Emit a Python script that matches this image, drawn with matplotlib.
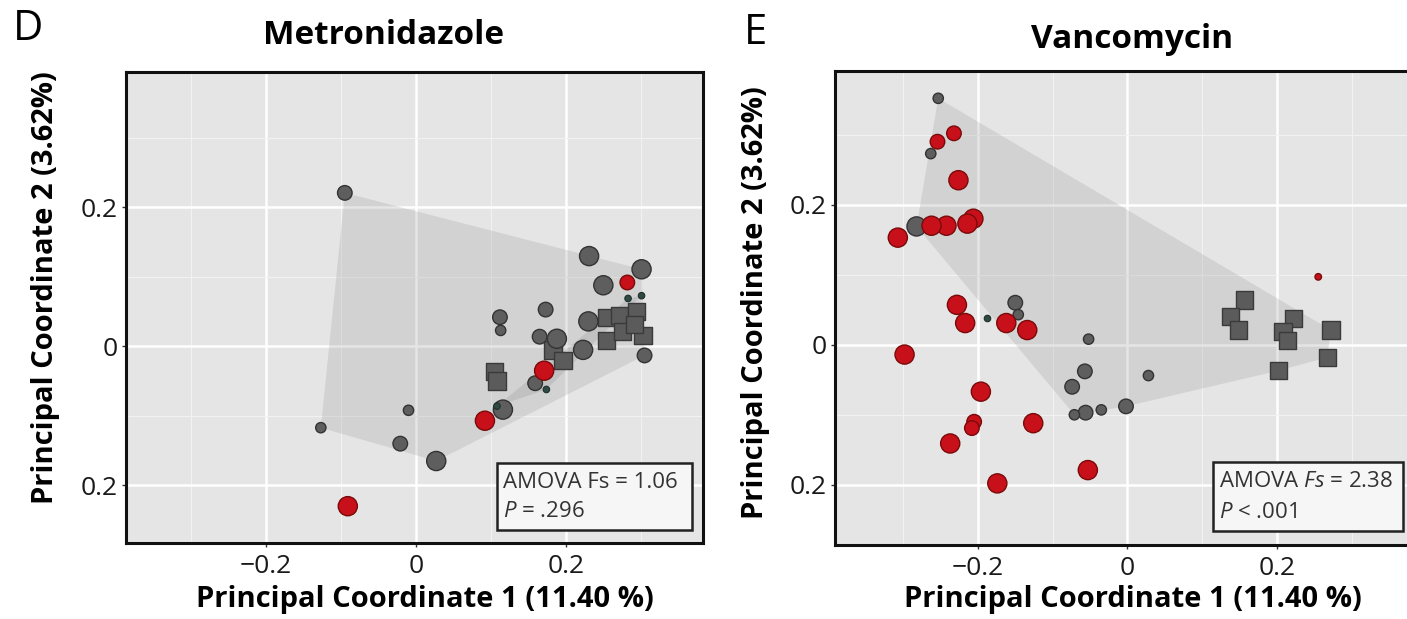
import matplotlib
matplotlib.use("Agg")
import matplotlib.pyplot as plt
from matplotlib.patches import Polygon, Rectangle
import numpy as np

plt.rcParams['font.family'] = ['Open Sans', 'DejaVu Sans']
plt.rcParams['mathtext.fontset'] = 'custom'
plt.rcParams['mathtext.rm'] = 'Open Sans'
plt.rcParams['mathtext.it'] = 'Open Sans:italic'
plt.rcParams['mathtext.bf'] = 'Open Sans:bold'

# ---- data ----
# kinds: g = grey circle, r = red circle, s = grey square, k = small dark green
# size codes: 1 tiny, 2 small, 3 medium, 4 large

# Metronidazole
met_x = [-0.095, -0.127, -0.010, -0.021, 0.027, 0.231, 0.301, 0.250, 0.173, 0.112,
         0.113, 0.230, 0.165, 0.188, 0.223, 0.305, 0.159, 0.116,
         0.254, 0.272, 0.294, 0.303, 0.254, 0.276, 0.292, 0.183, 0.196, 0.105, 0.108,
         0.282, 0.171, 0.092, -0.091,
         0.283, 0.301, 0.174, 0.108]
met_y = [0.221, -0.117, -0.092, -0.140, -0.165, 0.130, 0.111, 0.088, 0.053, 0.042,
         0.023, 0.036, 0.014, 0.011, -0.005, -0.013, -0.053, -0.091,
         0.042, 0.044, 0.050, 0.016, 0.008, 0.021, 0.032, -0.005, -0.020, -0.036, -0.050,
         0.092, -0.035, -0.107, -0.230,
         0.069, 0.073, -0.062, -0.086]
met_kind = ['g'] * 18 + ['s'] * 11 + ['r'] * 4 + ['k'] * 4
met_size = [3, 2, 2, 3, 4, 4, 4, 4, 3, 3,
            2, 4, 3, 4, 4, 3, 3, 4,
            4, 4, 4, 4, 4, 4, 4, 4, 4, 4, 4,
            3, 4, 4, 4,
            1, 1, 1, 1]

# Vancomycin
van_x = [-0.253, -0.263, -0.282, -0.150, -0.146, -0.052, -0.057, -0.074, -0.002, -0.035,
         -0.056, -0.071, 0.028,
         0.156, 0.138, 0.148, 0.222, 0.208, 0.214, 0.272, 0.267, 0.202,
         -0.232, -0.254, -0.226, -0.206, -0.214, -0.242, -0.262, -0.307, -0.228, -0.217,
         -0.162, -0.134, -0.298, -0.196, -0.205, -0.208, -0.126, -0.237, -0.053, -0.174,
         0.255,
         -0.188]
van_y = [0.352, 0.273, 0.169, 0.060, 0.043, 0.008, -0.038, -0.060, -0.088, -0.093,
         -0.097, -0.100, -0.044,
         0.064, 0.040, 0.021, 0.037, 0.019, 0.006, 0.021, -0.018, -0.037,
         0.302, 0.290, 0.235, 0.180, 0.173, 0.170, 0.170, 0.153, 0.057, 0.031,
         0.031, 0.021, -0.014, -0.067, -0.110, -0.119, -0.112, -0.141, -0.179, -0.198,
         0.097,
         0.038]
van_kind = ['g'] * 13 + ['s'] * 9 + ['r'] * 21 + ['k']
van_size = [2, 2, 4, 3, 2, 2, 3, 3, 3, 2,
            3, 2, 2,
            4, 4, 4, 4, 4, 4, 4, 4, 4,
            3, 3, 4, 4, 4, 4, 4, 4, 4, 4,
            4, 4, 4, 4, 3, 3, 4, 4, 4, 4,
            1,
            1]

met_stats = ['AMOVA Fs = 1.06', r'$\mathit{P}$ = .296']
van_stats = [r'AMOVA $\mathit{Fs}$ = 2.38', r'$\mathit{P}$ < .001']

x_ticks = [-0.2, 0, 0.2]
x_ticklabels = ['\u22120.2', '0', '0.2']
y_ticks = [-0.2, 0, 0.2]
y_ticklabels = ['0.2', '0', '0.2']

W, H = 1407, 619
circle_s = {1: 22, 2: 55, 3: 110, 4: 190}
square_s = {1: 40, 2: 80, 3: 120, 4: 155}


def hull(px, py):
    pts = sorted(set(zip(px, py)))
    if len(pts) < 3:
        return pts

    def cross(o, a, b):
        return (a[0] - o[0]) * (b[1] - o[1]) - (a[1] - o[1]) * (b[0] - o[0])
    lower, upper = [], []
    for p in pts:
        while len(lower) >= 2 and cross(lower[-2], lower[-1], p) <= 0:
            lower.pop()
        lower.append(p)
    for p in reversed(pts):
        while len(upper) >= 2 and cross(upper[-2], upper[-1], p) <= 0:
            upper.pop()
        upper.append(p)
    return lower[:-1] + upper[:-1]


def panel(ax, xs, ys, kinds, sizes, xlim, ylim, stats, box):
    ax.set_facecolor('#e5e5e5')
    ax.set_xlim(*xlim)
    ax.set_ylim(*ylim)
    ax.set_xticks(x_ticks, x_ticklabels)
    ax.set_yticks(y_ticks, y_ticklabels)
    ax.set_xticks([-0.3, -0.1, 0.1, 0.3], minor=True)
    ax.set_yticks([-0.1, 0.1, 0.3], minor=True)
    ax.grid(True, which='major', color='white', lw=1.8)
    ax.grid(True, which='minor', color='#f2f2f2', lw=0.8)
    ax.set_axisbelow(True)
    ax.tick_params(which='major', length=3, width=1, color='#333333',
                   labelsize=19, labelcolor='#1a1a1a')
    ax.tick_params(axis='x', which='major', pad=5)
    ax.tick_params(axis='y', which='major', pad=3)
    ax.tick_params(which='minor', length=0)
    for sp in ax.spines.values():
        sp.set_linewidth(2.2)
        sp.set_color('#111111')

    xs = np.array(xs); ys = np.array(ys)
    kinds = np.array(kinds); sizes = np.array(sizes)

    grey = (kinds == 'g') | (kinds == 's')
    hp = hull(xs[grey], ys[grey])
    ax.add_patch(Polygon(hp, closed=True, fc='#9a9a9a', ec='none', alpha=0.25, zorder=1))
    sm = kinds == 'k'
    if sm.sum() >= 3:
        hp = hull(xs[sm], ys[sm])
        ax.add_patch(Polygon(hp, closed=True, fc='#9a9a9a', ec='none', alpha=0.3, zorder=1))

    m = kinds == 's'
    ax.scatter(xs[m], ys[m], s=[square_s[v] for v in sizes[m]], marker='s',
               c='#5b5b5b', edgecolors='#3a3a3a', linewidths=1, zorder=3)
    m = kinds == 'g'
    ax.scatter(xs[m], ys[m], s=[circle_s[v] for v in sizes[m]], marker='o',
               c='#5e5e5e', edgecolors='#333333', linewidths=1, zorder=3)
    m = kinds == 'r'
    ax.scatter(xs[m], ys[m], s=[circle_s[v] for v in sizes[m]], marker='o',
               c='#c8101a', edgecolors='#7a0a0a', linewidths=1, zorder=4)
    m = kinds == 'k'
    ax.scatter(xs[m], ys[m], s=[circle_s[v] for v in sizes[m]], marker='o',
               c='#2f4a44', edgecolors='#1f2f2a', linewidths=0.8, zorder=4)

    x0, y0, x1, y1 = box
    ax.add_patch(Rectangle((x0, y0), x1 - x0, y1 - y0, transform=ax.transAxes,
                           fc='#f6f6f6', ec='#222222', lw=1.8, zorder=5))
    ax.text(x0 + 0.01, y0 + (y1 - y0) * 0.71, stats[0], transform=ax.transAxes,
            fontsize=16, color='#333333', va='center', ha='left', zorder=6)
    ax.text(x0 + 0.01, y0 + (y1 - y0) * 0.27, stats[1], transform=ax.transAxes,
            fontsize=16, color='#333333', va='center', ha='left', zorder=6)


fig = plt.figure(figsize=(W / 100, H / 100), dpi=100)

ax1 = fig.add_axes([126 / W, 1 - 543 / H, (703 - 126) / W, (543 - 72) / H])
panel(ax1, met_x, met_y, met_kind, met_size, (-0.387, 0.383), (-0.283, 0.395),
      met_stats, (0.643, 0.028, 0.981, 0.170))

ax2 = fig.add_axes([835 / W, 1 - 545 / H, (1414 - 835) / W, (545 - 71) / H])
panel(ax2, van_x, van_y, van_kind, van_size, (-0.391, 0.383), (-0.286, 0.391),
      van_stats, (0.653, 0.030, 0.981, 0.175))

xl = 'Principal Coordinate 1 (11.40 %)'
yl = 'Principal Coordinate 2 (3.62%)'
fig.text(425 / W, 1 - 600 / H, xl, ha='center', va='center', fontsize=21, fontweight='bold')
fig.text(1133 / W, 1 - 600 / H, xl, ha='center', va='center', fontsize=21, fontweight='bold')
fig.text(46 / W, 1 - 288 / H, yl, ha='center', va='center', rotation=90, fontsize=21, fontweight='bold')
fig.text(755 / W, 1 - 303 / H, yl, ha='center', va='center', rotation=90, fontsize=21, fontweight='bold')

fig.text(384 / W, 1 - 36 / H, 'Metronidazole', ha='center', va='center', fontsize=24, fontweight='bold')
fig.text(1132 / W, 1 - 40 / H, 'Vancomycin', ha='center', va='center', fontsize=24, fontweight='bold')
fig.text(28 / W, 1 - 29 / H, 'D', ha='center', va='center', fontsize=30)
fig.text(755 / W, 1 - 33 / H, 'E', ha='center', va='center', fontsize=30)

fig.savefig('out.png', dpi=100)
